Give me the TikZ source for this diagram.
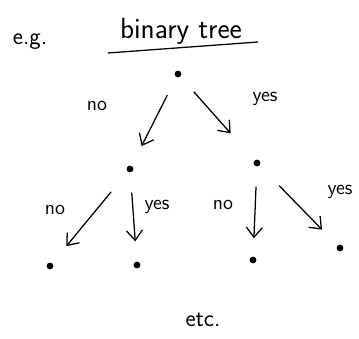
\documentclass[tikz,border=0pt]{standalone}
\usetikzlibrary{arrows.meta}
\begin{document}
\begin{tikzpicture}[
    x=0.025cm, y=-0.025cm,
    dot/.style={circle, fill=black, inner sep=0pt, minimum size=0.17cm},
    arrow/.style={-{Straight Barb[length=2.5mm, width=4mm]}, line width=0.9pt, shorten <=0.5cm, shorten >=0.55cm},
    lbl/.style={font=\sffamily\Large},
    big/.style={font=\sffamily\LARGE}
  ]
  \useasboundingbox (0,0) rectangle (359,339);

  % heading
  \node[big] (eg) at (30,42) {e.g.};
  \node[big, font=\sffamily\huge] (title) at (181,31) {binary tree};
  \draw[line width=0.9pt] (108,53) -- (258,42);

  % the tree
  \node[dot] (root) at (178,74) {};
  \node[dot] (no) at (130,169) {};
  \node[dot] (yes) at (257,163) {};
  \node[dot] (nono) at (50,266) {};
  \node[dot] (noyes) at (137,265) {};
  \node[dot] (yesno) at (253,260) {};
  \node[dot] (yesyes) at (340,248) {};

  \draw[arrow] (root) -- (no);
  \draw[arrow, shorten >=0.9cm] (root) -- (yes);
  \draw[arrow, shorten <=0.65cm] (no) -- (nono);
  \draw[arrow, shorten >=0.5cm] (no) -- (noyes);
  \draw[arrow, shorten >=0.45cm] (yes) -- (yesno);
  \draw[arrow, shorten <=0.7cm] (yes) -- (yesyes);

  % branch labels
  \node[lbl] (l1) at (97,106) {no};
  \node[lbl] (l2) at (265,99) {yes};
  \node[lbl] (l3) at (55,210) {no};
  \node[lbl] (l4) at (157,207) {yes};
  \node[lbl] (l5) at (223,205) {no};
  \node[lbl] (l6) at (340,192) {yes};

  \node[big] (etc) at (203,320) {etc.};
\end{tikzpicture}
\end{document}
